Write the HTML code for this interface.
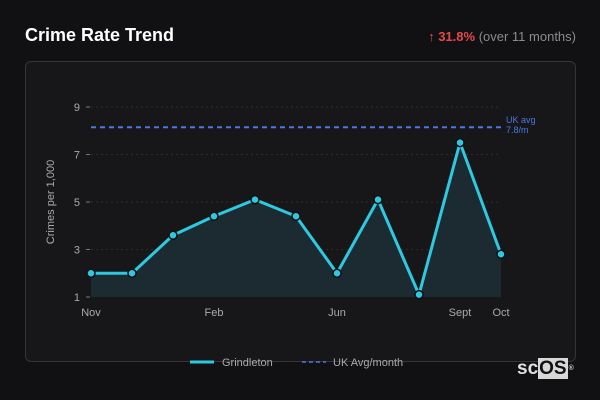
<!DOCTYPE html>
<html><head><meta charset="utf-8"><style>
body{margin:0;width:600px;height:400px;background:#111113;font-family:"Liberation Sans",sans-serif;overflow:hidden;position:relative}
.t{position:absolute;left:25px;top:25px;color:#fff;font-weight:bold;font-size:18px}
.c{position:absolute;right:24px;top:29px;font-size:13px;color:#8a8a90}
.c b{color:#e5484d}
.p{position:absolute;left:25px;top:61px;width:549px;height:299px;border:1px solid #34343a;border-radius:6px;background:#17171a}
svg{position:absolute;left:0;top:0}
.logo{position:absolute;left:517px;top:359px;color:#e0e0e0;font-size:19px;font-weight:bold;line-height:20px}
.logo span{padding:0 1px;background:#d8d8d8;color:#111}
.logo sup{font-size:7px;color:#ccc;vertical-align:top;margin-left:1px}
</style></head><body>
<div class="t">Crime Rate Trend</div>
<div class="c"><b>↑ 31.8%</b> (over 11 months)</div>
<div class="p"></div>
<svg id="s" width="600" height="400"></svg>
<div class="logo">sc<span>OS</span><sup>®</sup></div>
<script>
const categories=["Nov","Dec","Jan","Feb","Mar","Apr","Jun","Jul","Aug","Sept","Oct"];
const values=[2.0,2.0,3.6,4.4,5.1,4.4,2.0,5.1,1.1,7.5,2.8];
const xLabels=["Nov","Feb","Jun","Sept","Oct"];
const yTicks=[1,3,5,7,9];
const ukAvg=8.15;
const ukAvgLabel=["UK avg","7.8/m"];
const svg=document.getElementById('s');const NS="http://www.w3.org/2000/svg";
const x=i=>91+i*(501-91)/(categories.length-1);
const y=v=>297-(v-1)*(297-107)/8;
function mk(t,a,txt){const e=document.createElementNS(NS,t);for(const k in a)e.setAttribute(k,a[k]);if(txt!==undefined)e.textContent=txt;svg.appendChild(e);return e;}
yTicks.forEach(v=>{
 if(v>1){const g=mk('line',{x1:91,x2:501,y1:y(v),y2:y(v),stroke:'#2c2c30','stroke-dasharray':'2,3'});}
 mk('line',{x1:86,x2:90,y1:y(v),y2:y(v),stroke:'#777'});
 const t=mk('text',{x:80,y:y(v)+4,'text-anchor':'end',fill:'#aaa','font-size':11},v);
 
});
xLabels.forEach(l=>{const i=categories.indexOf(l);
 const t=mk('text',{x:x(i),y:316,'text-anchor':'middle',fill:'#aaa','font-size':11},l);
 });
const yt=mk('text',{x:0,y:0,transform:'translate(54,202) rotate(-90)','text-anchor':'middle',fill:'#aaa','font-size':11},'Crimes per 1,000');

let pts=values.map((v,i)=>x(i)+','+y(v)).join(' ');
const area=mk('polygon',{points:x(0)+','+y(1)+' '+pts+' '+x(values.length-1)+','+y(1),fill:'#1b2b31'});

const ua=mk('line',{x1:91,x2:501,y1:y(ukAvg),y2:y(ukAvg),stroke:'#4a78e0','stroke-width':2,'stroke-dasharray':'5,4'});

ukAvgLabel.forEach((l,k)=>{const t=mk('text',{x:506,y:y(ukAvg)-4+k*10,fill:'#4a78e0','font-size':9},l);
 });
const ln=mk('polyline',{points:pts,fill:'none',stroke:'#2ec9e0','stroke-width':3,'stroke-linejoin':'round'});

values.forEach((v,i)=>{const c=mk('circle',{cx:x(i),cy:y(v),r:4,fill:'#2ec9e0',stroke:'#111','stroke-width':1.5});
 });
const l1=mk('line',{x1:190,x2:214,y1:362,y2:362,stroke:'#2ec9e0','stroke-width':3});

const lt1=mk('text',{x:222,y:366,fill:'#aaa','font-size':11},'Grindleton');

const l2=mk('line',{x1:302,x2:326,y1:362,y2:362,stroke:'#4a78e0','stroke-width':1.5,'stroke-dasharray':'4,3'});

const lt2=mk('text',{x:333,y:366,fill:'#aaa','font-size':11},'UK Avg/month');

</script>
</body></html>
